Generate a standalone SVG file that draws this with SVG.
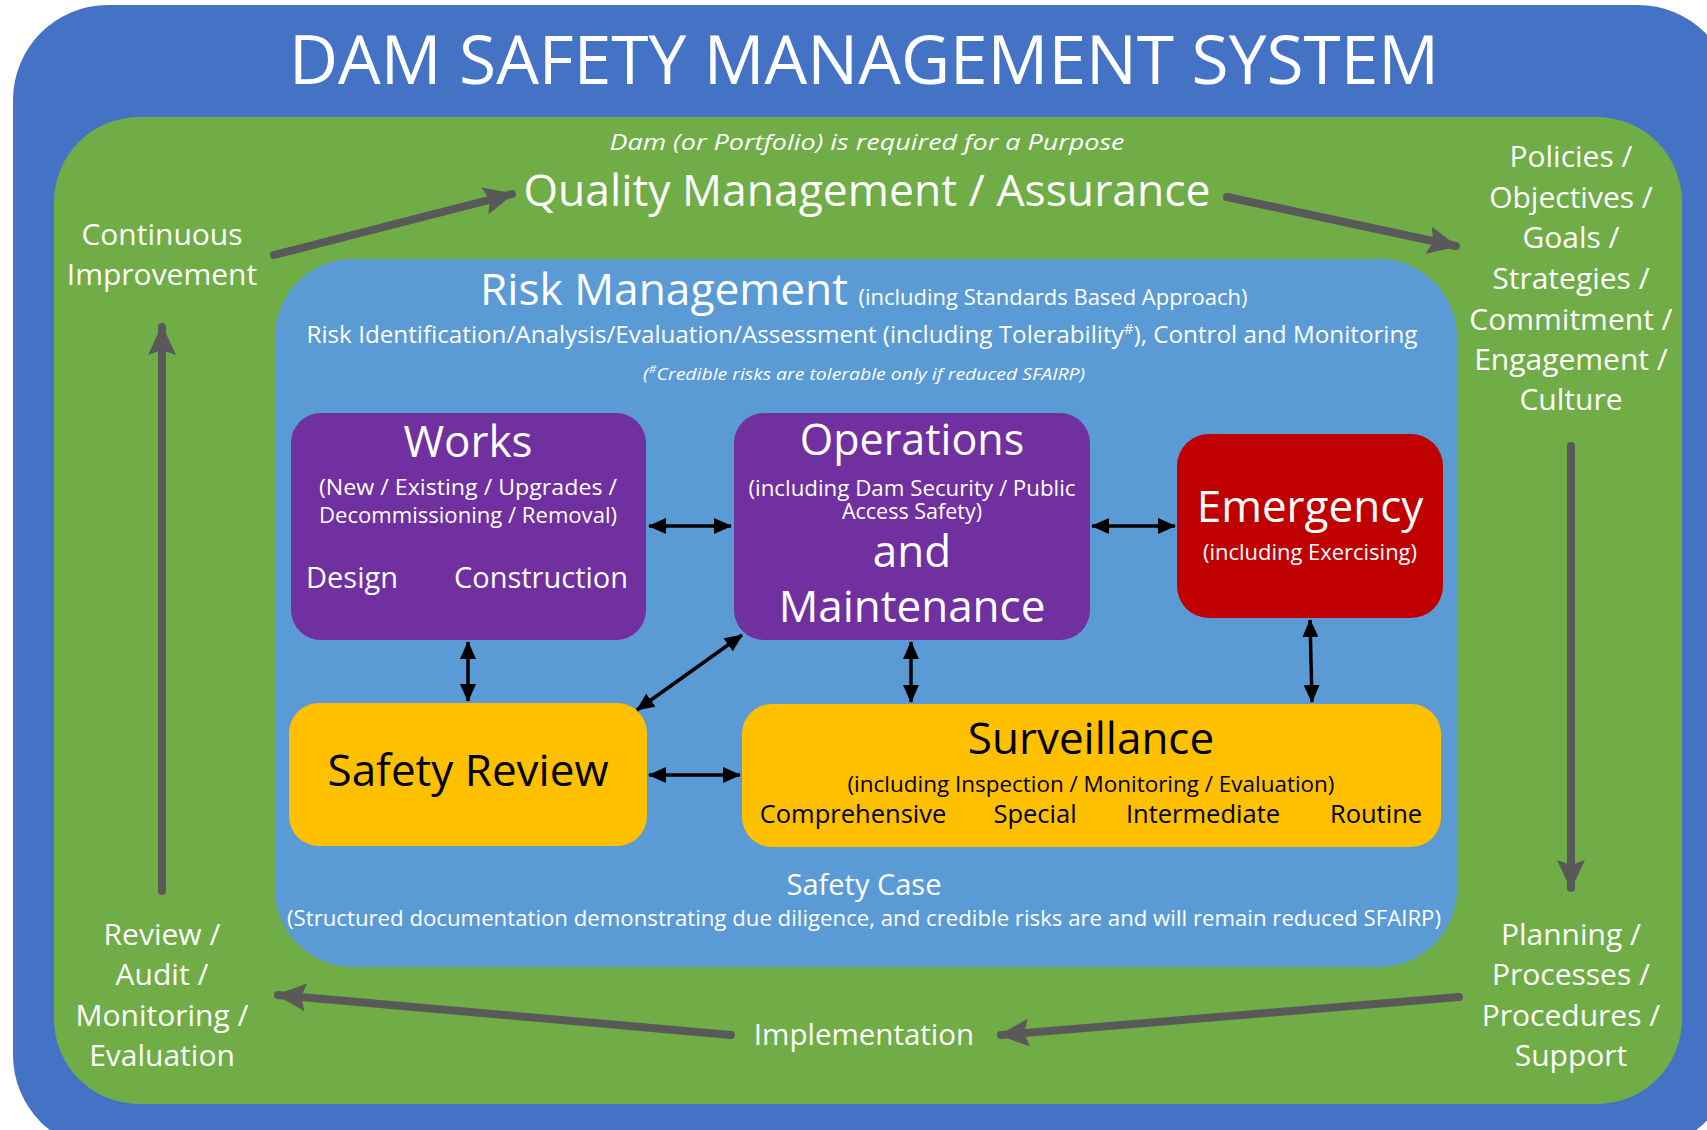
<svg xmlns="http://www.w3.org/2000/svg" width="1707" height="1130" viewBox="0 0 1707 1130">
<defs>
<style>
text{font-family:"Open Sans","Noto Sans","DejaVu Sans",sans-serif;fill:#fff;text-anchor:middle}
.dark{fill:#000}
.it{font-style:italic}
.garrow{stroke:#595959;stroke-width:8;fill:none;stroke-linecap:round}
.barrow{stroke:#000;stroke-width:3.5;fill:none}
</style>
<marker id="gh" markerUnits="userSpaceOnUse" viewBox="0 0 30 28" markerWidth="30" markerHeight="28" refX="28" refY="14" orient="auto">
<path d="M0,0 L30,14 L0,28 L5,14 Z" fill="#595959"/>
</marker>
<marker id="bh" markerUnits="userSpaceOnUse" viewBox="0 0 18 16" markerWidth="18" markerHeight="16" refX="17" refY="8" orient="auto-start-reverse">
<path d="M0,0 L18,8 L0,16 Z" fill="#000"/>
</marker>
</defs>

<rect id="outer" x="13" y="5" width="1720" height="1145" rx="95" fill="#4472C4"/>
<text x="864" y="84" font-size="68" textLength="1150" lengthAdjust="spacingAndGlyphs">DAM SAFETY MANAGEMENT SYSTEM</text>

<rect id="green" x="54" y="117" width="1628" height="987" rx="85" fill="#70AD47"/>
<rect id="risk" x="275" y="259" width="1182" height="708" rx="78" fill="#5B9BD5"/>

<g id="quality">
<text class="it" x="867" y="150" font-size="22" textLength="515" lengthAdjust="spacingAndGlyphs">Dam (or Portfolio) is required for a Purpose</text>
<text x="867" y="206" font-size="44" textLength="687" lengthAdjust="spacingAndGlyphs">Quality Management / Assurance</text>
</g>

<g id="continuous">
<text x="162" y="245" font-size="30">Continuous</text>
<text x="162" y="285" font-size="30">Improvement</text>
</g>

<g id="policies">
<text x="1571" y="167" font-size="30">Policies /</text>
<text x="1571" y="208" font-size="30">Objectives /</text>
<text x="1571" y="248" font-size="30">Goals /</text>
<text x="1571" y="289" font-size="30">Strategies /</text>
<text x="1571" y="330" font-size="30">Commitment /</text>
<text x="1571" y="370" font-size="30">Engagement /</text>
<text x="1571" y="410" font-size="30">Culture</text>
</g>

<g id="planning">
<text x="1571" y="945" font-size="30">Planning /</text>
<text x="1571" y="985" font-size="30">Processes /</text>
<text x="1571" y="1026" font-size="30">Procedures /</text>
<text x="1571" y="1066" font-size="30">Support</text>
</g>

<g id="implementation">
<text x="864" y="1045" font-size="29.5">Implementation</text>
</g>

<g id="review">
<text x="162" y="945" font-size="30">Review /</text>
<text x="162" y="985" font-size="30">Audit /</text>
<text x="162" y="1026" font-size="30">Monitoring /</text>
<text x="162" y="1066" font-size="30">Evaluation</text>
</g>

<g id="riskmanagement">
<text x="664" y="305" font-size="44" textLength="368" lengthAdjust="spacingAndGlyphs">Risk Management</text>
<text x="1053" y="305" font-size="21" textLength="389" lengthAdjust="spacingAndGlyphs">(including Standards Based Approach)</text>
<text x="862" y="343" font-size="24" textLength="1111" lengthAdjust="spacingAndGlyphs">Risk Identification/Analysis/Evaluation/Assessment (including Tolerability<tspan font-size="15" dy="-9">#</tspan><tspan dy="9">), Control and Monitoring</tspan></text>
<text class="it" x="864" y="380" font-size="17" textLength="442" lengthAdjust="spacingAndGlyphs">(<tspan font-size="11" dy="-7">#</tspan><tspan dy="7">Credible risks are tolerable only if reduced SFAIRP)</tspan></text>
</g>

<g id="works">
<rect x="291" y="413" width="355" height="227" rx="30" fill="#7030A0"/>
<text x="468" y="457" font-size="44">Works</text>
<text font-size="22.5"><tspan x="468" y="495" textLength="298" lengthAdjust="spacingAndGlyphs">(New / Existing / Upgrades /</tspan><tspan x="468" y="523" textLength="298" lengthAdjust="spacingAndGlyphs">Decommissioning / Removal)</tspan></text>
<text x="352" y="588" font-size="29">Design</text>
<text x="541" y="588" font-size="29">Construction</text>
</g>

<g id="operations">
<rect x="734" y="413" width="356" height="227" rx="30" fill="#7030A0"/>
<text><tspan x="912" y="455" font-size="43">Operations</tspan><tspan x="912" y="496" font-size="21.5" textLength="327" lengthAdjust="spacingAndGlyphs">(including Dam Security / Public</tspan><tspan x="912" y="519" font-size="21.5">Access Safety)</tspan><tspan x="912" y="567" font-size="44">and</tspan><tspan x="912" y="622" font-size="44">Maintenance</tspan></text>
</g>

<g id="emergency">
<rect x="1177" y="434" width="266" height="184" rx="32" fill="#C00000"/>
<text x="1310" y="522" font-size="44">Emergency</text>
<text x="1310" y="560" font-size="22" textLength="214" lengthAdjust="spacingAndGlyphs">(including Exercising)</text>
</g>

<g id="safetyreview">
<rect x="289" y="703" width="358" height="143" rx="30" fill="#FFC000"/>
<text class="dark" x="468" y="786" font-size="44">Safety Review</text>
</g>

<g id="surveillance">
<rect x="742" y="704" width="699" height="143" rx="30" fill="#FFC000"/>
<text class="dark" x="1091" y="754" font-size="44">Surveillance</text>
<text class="dark" x="1091" y="792" font-size="22" textLength="487" lengthAdjust="spacingAndGlyphs">(including Inspection / Monitoring / Evaluation)</text>
<text class="dark" x="853" y="823" font-size="25.5">Comprehensive</text>
<text class="dark" x="1035" y="823" font-size="25.5">Special</text>
<text class="dark" x="1203" y="823" font-size="25.5">Intermediate</text>
<text class="dark" x="1376" y="823" font-size="25.5">Routine</text>
</g>

<g id="safetycase">
<text x="864" y="895" font-size="29">Safety Case</text>
<text x="864" y="926" font-size="22" textLength="1154" lengthAdjust="spacingAndGlyphs">(Structured documentation demonstrating due diligence, and credible risks are and will remain reduced SFAIRP)</text>
</g>

<g id="connectors">
<line class="garrow" x1="274" y1="255" x2="512" y2="194" marker-end="url(#gh)"/>
<line class="garrow" x1="1227" y1="197" x2="1456" y2="246" marker-end="url(#gh)"/>
<line class="garrow" x1="1571" y1="446" x2="1571" y2="888" marker-end="url(#gh)"/>
<line class="garrow" x1="1459" y1="997" x2="1001" y2="1035" marker-end="url(#gh)"/>
<line class="garrow" x1="731" y1="1035" x2="278" y2="995" marker-end="url(#gh)"/>
<line class="garrow" x1="162" y1="891" x2="162" y2="327" marker-end="url(#gh)"/>

<line class="barrow" x1="649" y1="526" x2="731" y2="526" marker-start="url(#bh)" marker-end="url(#bh)"/>
<line class="barrow" x1="1092" y1="526" x2="1175" y2="526" marker-start="url(#bh)" marker-end="url(#bh)"/>
<line class="barrow" x1="468" y1="642" x2="468" y2="701" marker-start="url(#bh)" marker-end="url(#bh)"/>
<line class="barrow" x1="911" y1="642" x2="911" y2="702" marker-start="url(#bh)" marker-end="url(#bh)"/>
<line class="barrow" x1="1310" y1="620" x2="1312" y2="702" marker-start="url(#bh)" marker-end="url(#bh)"/>
<line class="barrow" x1="742" y1="635" x2="637" y2="710" marker-start="url(#bh)" marker-end="url(#bh)"/>
<line class="barrow" x1="649" y1="775" x2="740" y2="775" marker-start="url(#bh)" marker-end="url(#bh)"/>
</g>
</svg>
